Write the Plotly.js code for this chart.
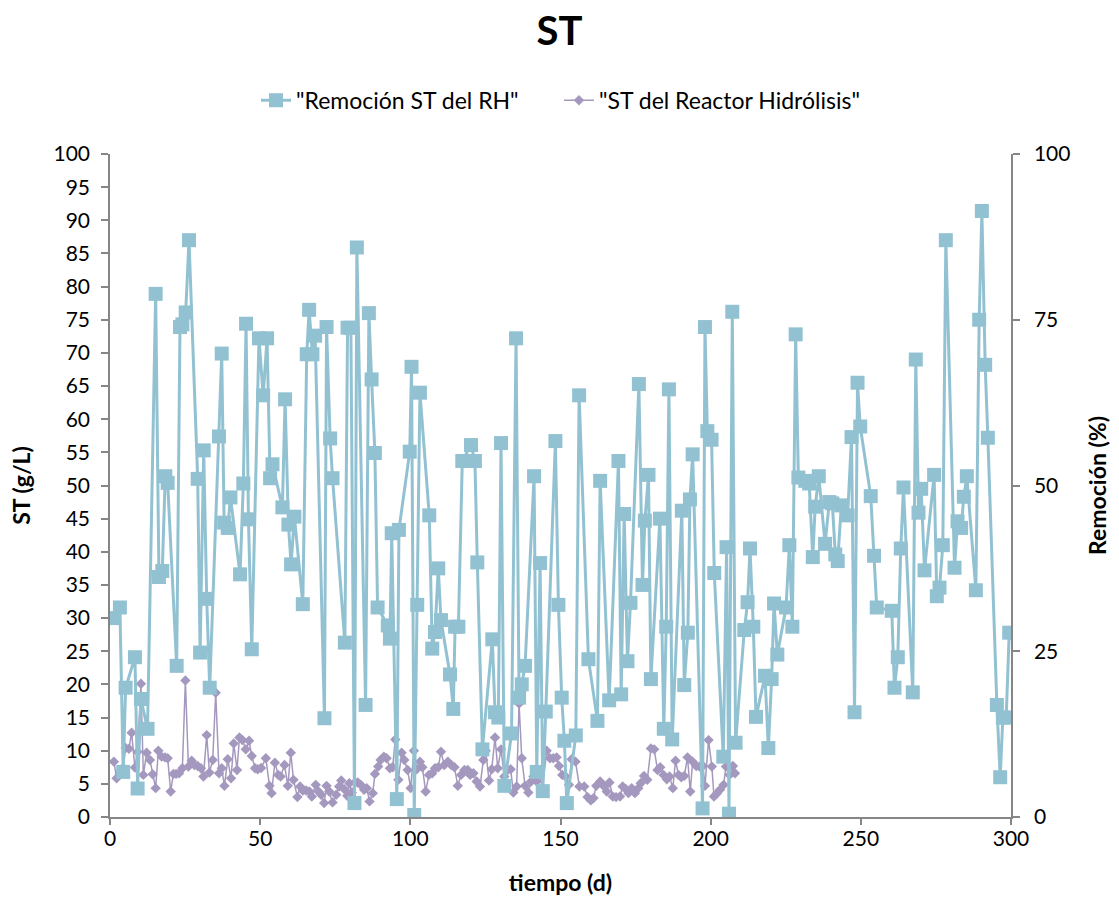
<!DOCTYPE html>
<html>
<head>
<meta charset="utf-8">
<script src="https://cdn.plot.ly/plotly-3.0.1.min.js"></script>
<style>html,body{margin:0;padding:0;background:#fff;}#chart{width:1119px;height:907px;}</style>
</head>
<body>
<div id="chart"></div>
<script>
// "Remoción ST del RH" (%), right axis
const remDays = [1.4,3.3,4.4,5.2,8.3,9.2,10.3,12.5,15.2,16.3,17.4,18.4,19.2,22.2,23.3,24.1,25.2,26.3,29.2,30.0,31.2,32.2,33.2,36.3,37.2,38.0,39.2,40.1,43.3,44.4,45.3,46.1,47.2,49.6,51.0,52.3,53.3,54.1,57.4,58.3,59.4,60.3,61.4,64.2,65.5,66.3,67.4,68.3,71.4,72.1,73.3,74.1,78.2,79.1,80.2,81.4,82.2,85.1,86.2,87.1,88.2,89.1,92.5,93.2,93.8,95.5,96.2,99.8,100.4,101.3,102.3,103.2,106.3,107.3,108.2,109.3,110.2,113.2,114.3,114.9,116.0,117.3,120.2,121.5,122.3,124.0,127.3,128.2,129.3,130.2,131.3,133.7,135.2,136.2,137.1,138.2,141.2,142.1,143.2,144.1,145.1,148.3,149.3,150.4,151.3,152.1,155.1,156.2,159.3,162.3,163.2,166.2,169.3,170.2,171.2,172.3,173.3,176.1,177.3,178.1,179.3,180.1,183.1,184.4,185.2,186.1,187.2,190.4,191.2,192.4,193.1,194.0,197.3,198.1,198.9,200.3,201.2,204.2,205.3,206.1,207.2,208.3,211.2,212.3,213.1,214.2,215.1,218.1,219.2,220.3,221.1,222.2,225.1,226.2,227.2,228.3,229.2,231.5,232.8,234.0,234.8,236.0,238.1,239.5,240.5,241.5,242.3,243.5,245.6,246.9,247.9,248.9,249.8,253.3,254.4,255.3,260.3,261.2,262.3,263.3,264.2,267.3,268.3,269.2,270.1,271.2,274.4,275.3,276.2,277.3,278.3,281.2,282.2,283.4,284.3,285.3,288.3,289.4,290.3,291.4,292.3,295.3,296.4,297.3,298.4,299.4];
const remVals = [30.0,31.6,6.8,19.5,24.1,4.3,17.8,13.3,78.9,36.2,37.1,51.4,50.4,22.8,73.9,74.3,76.1,87.0,51.0,24.8,55.3,32.9,19.5,57.4,69.9,44.4,43.6,48.2,36.6,50.3,74.4,44.9,25.3,72.2,63.6,72.2,51.1,53.2,46.7,63.0,44.1,38.1,45.3,32.1,69.8,76.5,69.8,72.6,14.9,73.9,57.1,51.1,26.3,73.8,73.8,2.1,85.9,16.9,76.0,66.0,54.9,31.6,28.9,26.9,42.8,2.7,43.3,55.1,67.9,0.3,32.0,64.0,45.5,25.4,27.9,37.5,29.7,21.5,16.3,28.7,28.7,53.7,56.1,53.7,38.4,10.2,26.8,15.8,15.0,56.4,4.7,12.6,72.2,18.0,20.0,22.8,51.4,6.8,38.3,3.9,15.9,56.7,32.0,18.0,11.5,2.1,12.3,63.6,23.8,14.5,50.7,17.6,53.7,18.5,45.7,23.5,32.3,65.3,35.0,44.7,51.6,20.8,45.0,13.3,28.7,64.5,11.7,46.2,19.9,27.8,47.9,54.7,1.3,73.9,58.2,56.9,36.8,9.1,40.7,0.5,76.2,11.2,28.2,32.4,40.5,28.7,15.1,21.3,10.4,20.8,32.2,24.5,31.6,41.0,28.7,72.8,51.2,50.7,50.3,39.2,46.8,51.4,41.2,47.5,47.3,39.6,38.6,47.0,45.5,57.3,15.8,65.5,58.9,48.4,39.4,31.6,31.1,19.5,24.1,40.5,49.7,18.8,69.0,45.9,49.5,37.2,51.6,33.3,34.6,41.0,87.0,37.6,44.6,43.6,48.3,51.4,34.2,75.0,91.4,68.2,57.2,16.9,6.0,15.0,15.0,27.8];

// "ST del Reactor Hidrólisis" (g/L), left axis
const stDays = [1.3,2.2,3.3,4.4,5.2,6.3,7.2,8.3,9.2,10.3,11.1,12.2,13.3,14.2,15.2,16.1,17.2,18.3,19.2,20.2,21.1,22.0,23.0,24.1,25.1,26.1,27.2,28.1,29.2,30.3,31.1,32.2,33.1,34.2,35.2,36.3,37.2,38.1,39.2,40.3,41.2,42.3,43.1,44.1,45.2,46.3,47.2,48.3,49.2,50.3,51.9,53.1,53.8,54.9,56.0,56.8,58.1,59.2,60.2,61.1,62.4,63.3,64.2,65.3,66.4,67.2,68.5,69.4,70.3,71.3,72.1,73.0,74.1,75.3,76.3,77.0,78.0,79.0,79.7,80.5,81.6,82.5,83.5,84.6,85.5,86.4,87.5,88.2,89.3,90.1,91.2,92.1,93.2,94.1,95.0,96.0,97.1,98.0,99.1,100.1,101.2,102.1,103.2,104.0,105.1,106.2,107.3,108.2,109.3,110.2,111.3,112.5,113.6,114.7,115.8,116.9,118.0,119.1,119.9,121.0,122.1,123.2,124.3,125.1,126.2,127.1,128.2,129.1,130.2,131.3,132.4,133.4,134.3,135.4,136.2,137.1,138.2,139.3,140.2,141.0,142.1,142.9,144.0,145.4,146.5,147.6,148.7,149.5,150.6,151.7,152.8,153.7,155.0,156.3,157.9,159.0,160.1,161.0,161.9,163.2,164.3,165.4,166.3,167.4,168.5,169.8,170.7,171.8,172.6,173.7,174.8,175.9,176.7,177.8,178.9,180.1,181.2,182.3,183.2,184.3,185.4,186.3,187.4,188.3,189.3,190.2,191.2,192.3,193.2,194.0,195.2,196.3,197.4,198.1,199.3,200.4,201.1,202.0,203.1,204.3,205.1,206.3,207.4,208.1];
const stVals = [8.35,5.85,6.6,7.45,10.4,10.3,12.7,7.45,9.85,20.1,6.35,9.7,8.6,6.45,4.35,10.0,9.1,9.0,8.85,3.85,6.5,6.5,6.6,7.35,20.6,7.6,8.5,7.85,7.7,7.35,6.1,12.35,6.7,8.6,18.75,6.6,7.35,4.7,8.7,5.85,11.1,7.1,12.0,11.6,10.2,11.5,9.2,7.35,7.2,7.4,8.85,4.7,3.6,8.2,6.35,6.1,7.85,4.7,9.7,5.6,3.0,4.6,4.0,4.0,3.85,3.1,4.85,3.85,3.35,2.1,4.7,3.85,2.2,3.35,4.6,5.5,4.2,3.2,5.1,3.7,5.2,5.2,4.85,4.1,4.35,2.35,3.6,6.5,7.6,8.6,9.1,8.85,7.35,7.5,11.7,5.6,9.7,8.6,7.1,4.35,10.0,7.2,8.35,7.5,3.85,6.35,6.6,7.35,7.5,9.85,7.85,8.35,7.85,7.5,4.7,6.35,7.1,7.1,6.35,6.6,5.35,4.6,8.6,10.0,5.5,7.2,12.0,7.35,10.2,6.1,7.1,7.2,3.7,4.6,17.1,8.85,4.7,3.7,5.35,6.1,5.35,6.7,4.35,10.0,8.85,8.85,9.0,7.7,6.35,6.1,4.85,8.7,8.35,4.6,4.6,3.0,2.5,2.85,4.7,5.35,4.7,3.85,5.2,3.1,3.0,3.1,4.6,4.2,3.6,4.35,3.6,4.35,5.1,6.2,5.6,10.35,10.2,7.1,7.5,6.35,5.7,6.1,4.35,8.5,6.35,6.0,6.2,9.0,3.85,8.35,7.7,7.6,7.7,4.7,11.6,7.6,3.1,3.5,4.1,4.85,7.6,6.35,7.7,6.6];

const xTicks = [0,50,100,150,200,250,300];
const FONT = 'Lato, "Open Sans", "Noto Sans", sans-serif';
const axisColor = '#868686';

const traces = [
  {
    x: remDays, y: remVals, yaxis: 'y2', type: 'scatter', mode: 'lines+markers',
    name: '"Remoción ST del RH"\u00A0\u00A0\u00A0\u00A0\u00A0\u00A0',
    line: {color: '#92C2D2', width: 3},
    marker: {symbol: 'square', size: 14, color: '#92C2D2'}
  },
  {
    x: stDays, y: stVals, yaxis: 'y', type: 'scatter', mode: 'lines+markers',
    name: '"ST del Reactor Hidrólisis"',
    line: {color: '#A598BE', width: 1.5},
    marker: {symbol: 'diamond', size: 8, color: '#A598BE'}
  }
];

const layout = {
  width: 1119, height: 907,
  margin: {l: 110, r: 108, t: 154, b: 90, pad: 0},
  paper_bgcolor: '#fff', plot_bgcolor: '#fff',
  font: {family: FONT, size: 21, color: '#000'},
  title: {text: '<b>ST</b>', x: 0.5, xanchor: 'center', y: 0.966, yanchor: 'middle', font: {family: FONT, size: 40, color: '#000'}},
  showlegend: true,
  legend: {orientation: 'h', x: 0.5, xanchor: 'center', y: 1.081, yanchor: 'middle', font: {family: FONT, size: 23, color: '#000'}},
  xaxis: {
    range: [0, 300], tickvals: xTicks, ticktext: xTicks.map(String),
    showgrid: false, zeroline: false, showline: true, linecolor: axisColor, linewidth: 1.5,
    ticks: 'outside', ticklen: 6, tickcolor: axisColor, tickwidth: 1.5,
    ticklabelstandoff: -4,
    tickfont: {family: FONT, size: 21, color: '#000'},
    title: {text: '<b>tiempo (d)</b>', font: {family: FONT, size: 23, color: '#000'}, standoff: 26},
    automargin: false
  },
  yaxis: {
    range: [0, 100], dtick: 5, tick0: 0,
    showgrid: false, zeroline: false, showline: true, linecolor: axisColor, linewidth: 1.5,
    ticks: 'outside', ticklen: 7, tickcolor: axisColor, tickwidth: 1.5,
    ticklabelstandoff: 7,
    tickfont: {family: FONT, size: 21, color: '#000'},
    title: {text: '<b>ST (g/L)</b>', font: {family: FONT, size: 23, color: '#000'}, standoff: 16},
    automargin: false
  },
  yaxis2: {
    range: [0, 100], dtick: 25, tick0: 0, overlaying: 'y', side: 'right',
    showgrid: false, zeroline: false, showline: true, linecolor: axisColor, linewidth: 1.5,
    ticks: 'outside', ticklen: 7, tickcolor: axisColor, tickwidth: 1.5,
    ticklabelstandoff: 10,
    tickfont: {family: FONT, size: 21, color: '#000'},
    title: {text: '<b>Remoción (%)</b>', font: {family: FONT, size: 23, color: '#000'}, standoff: 20},
    automargin: false
  }
};

Plotly.newPlot('chart', traces, layout, {displayModeBar: false, responsive: false});
</script>
</body>
</html>
